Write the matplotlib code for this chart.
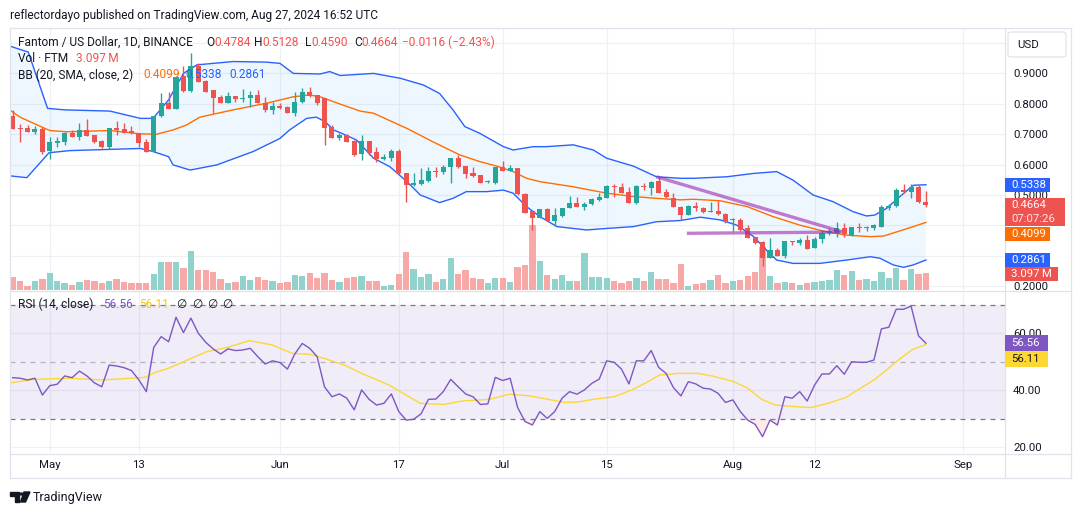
import numpy as np
import pandas as pd
import matplotlib
matplotlib.use("Agg")
import matplotlib.pyplot as plt
import matplotlib.transforms as mtransforms
from matplotlib.patches import Rectangle, FancyBboxPatch, Polygon, Circle
from matplotlib.lines import Line2D

W, H = 1080, 515
plt.rcParams["font.family"] = ["Roboto", "DejaVu Sans"]

TEAL = "#26a69a"
RED = "#ef5350"
DARK = "#131722"
BLUE = "#2962ff"
ORANGE = "#ff6d00"
PURPLE = "#7e57c2"
YELLOW = "#fdd835"
GRID = "#eef0f5"
BORDER = "#e0e3eb"

#----------- data -----------#
start = "2024-04-26"
opens = [0.760, 0.720, 0.719, 0.708, 0.717, 0.646, 0.670, 0.674, 0.703, 0.692,
         0.714, 0.696, 0.679, 0.657, 0.720, 0.717, 0.710, 0.705, 0.674, 0.643,
         0.760, 0.804, 0.784, 0.891, 0.842, 0.924, 0.875, 0.845, 0.821, 0.804,
         0.826, 0.817, 0.820, 0.829, 0.804, 0.780, 0.793, 0.788, 0.771, 0.807,
         0.839, 0.828, 0.818, 0.725, 0.689, 0.697, 0.679, 0.635, 0.678, 0.643,
         0.617, 0.623, 0.645, 0.571, 0.533, 0.536, 0.546, 0.579, 0.574, 0.591,
         0.623, 0.595, 0.571, 0.566, 0.542, 0.539, 0.593, 0.580, 0.590, 0.502,
         0.447, 0.425, 0.453, 0.416, 0.431, 0.458, 0.473, 0.462, 0.469, 0.483,
         0.491, 0.529, 0.525, 0.511, 0.475, 0.529, 0.522, 0.546, 0.509, 0.489,
         0.462, 0.434, 0.464, 0.458, 0.445, 0.447, 0.437, 0.418, 0.418, 0.390,
         0.361, 0.347, 0.294, 0.319, 0.300, 0.349, 0.341, 0.352, 0.327, 0.354,
         0.376, 0.374, 0.390, 0.368, 0.394, 0.393, 0.393, 0.396, 0.456, 0.465,
         0.516, 0.511, 0.525, 0.4784]
highs = [0.780, 0.732, 0.730, 0.727, 0.725, 0.692, 0.692, 0.708, 0.714, 0.736,
         0.750, 0.697, 0.681, 0.722, 0.745, 0.736, 0.727, 0.705, 0.683, 0.761,
         0.834, 0.839, 0.890, 0.924, 0.966, 0.933, 0.878, 0.845, 0.829, 0.838,
         0.826, 0.850, 0.842, 0.845, 0.823, 0.807, 0.801, 0.793, 0.840, 0.851,
         0.854, 0.830, 0.818, 0.730, 0.703, 0.700, 0.681, 0.697, 0.678, 0.659,
         0.635, 0.651, 0.651, 0.571, 0.571, 0.588, 0.593, 0.593, 0.599, 0.623,
         0.632, 0.595, 0.591, 0.566, 0.549, 0.593, 0.612, 0.599, 0.590, 0.506,
         0.447, 0.453, 0.456, 0.456, 0.458, 0.498, 0.492, 0.478, 0.491, 0.508,
         0.533, 0.536, 0.538, 0.527, 0.533, 0.538, 0.547, 0.560, 0.520, 0.505,
         0.464, 0.467, 0.478, 0.462, 0.478, 0.480, 0.440, 0.423, 0.423, 0.401,
         0.363, 0.350, 0.357, 0.325, 0.349, 0.350, 0.357, 0.368, 0.361, 0.385,
         0.390, 0.411, 0.409, 0.396, 0.409, 0.398, 0.403, 0.467, 0.472, 0.524,
         0.536, 0.536, 0.533, 0.5128]
lows = [0.716, 0.675, 0.706, 0.700, 0.635, 0.617, 0.659, 0.665, 0.690, 0.681,
        0.693, 0.672, 0.656, 0.651, 0.697, 0.703, 0.701, 0.659, 0.641, 0.641,
        0.755, 0.782, 0.782, 0.840, 0.840, 0.871, 0.838, 0.769, 0.802, 0.802,
        0.805, 0.807, 0.791, 0.802, 0.774, 0.765, 0.784, 0.769, 0.761, 0.804,
        0.823, 0.796, 0.665, 0.686, 0.681, 0.673, 0.628, 0.615, 0.632, 0.607,
        0.615, 0.613, 0.569, 0.478, 0.528, 0.534, 0.544, 0.558, 0.569, 0.541,
        0.589, 0.555, 0.560, 0.538, 0.538, 0.536, 0.578, 0.580, 0.500, 0.440,
        0.385, 0.423, 0.414, 0.398, 0.427, 0.456, 0.460, 0.451, 0.467, 0.481,
        0.489, 0.494, 0.506, 0.473, 0.470, 0.516, 0.500, 0.506, 0.489, 0.460,
        0.418, 0.433, 0.448, 0.442, 0.445, 0.434, 0.409, 0.382, 0.383, 0.357,
        0.339, 0.266, 0.292, 0.299, 0.294, 0.335, 0.335, 0.322, 0.325, 0.341,
        0.367, 0.363, 0.361, 0.366, 0.378, 0.380, 0.385, 0.396, 0.451, 0.462,
        0.505, 0.489, 0.475, 0.4590]
closes = [0.718, 0.716, 0.708, 0.716, 0.643, 0.673, 0.678, 0.705, 0.692, 0.714,
          0.695, 0.674, 0.659, 0.722, 0.715, 0.705, 0.703, 0.672, 0.642, 0.760,
          0.804, 0.784, 0.889, 0.842, 0.924, 0.873, 0.839, 0.820, 0.804, 0.826,
          0.817, 0.820, 0.829, 0.804, 0.780, 0.793, 0.787, 0.771, 0.807, 0.839,
          0.826, 0.804, 0.722, 0.689, 0.697, 0.675, 0.632, 0.678, 0.637, 0.617,
          0.626, 0.645, 0.571, 0.533, 0.539, 0.549, 0.579, 0.574, 0.591, 0.621,
          0.591, 0.569, 0.562, 0.541, 0.544, 0.593, 0.580, 0.590, 0.502, 0.442,
          0.425, 0.453, 0.416, 0.434, 0.458, 0.473, 0.462, 0.470, 0.486, 0.492,
          0.529, 0.525, 0.508, 0.475, 0.529, 0.525, 0.544, 0.508, 0.492, 0.462,
          0.434, 0.465, 0.458, 0.445, 0.447, 0.436, 0.411, 0.420, 0.385, 0.360,
          0.341, 0.294, 0.319, 0.300, 0.349, 0.345, 0.352, 0.324, 0.355, 0.376,
          0.380, 0.390, 0.372, 0.394, 0.390, 0.396, 0.400, 0.462, 0.465, 0.516,
          0.511, 0.527, 0.478, 0.4664]
# volume in millions
volume = [2.31, 1.69, 0.67, 1.69, 2.00, 3.10, 1.59, 1.22, 0.91, 1.51,
          1.77, 1.69, 1.28, 1.64, 2.00, 1.51, 1.28, 1.28, 1.28, 2.92,
          5.05, 5.05, 5.05, 4.01, 7.05, 3.64, 3.64, 3.33, 2.00, 1.28,
          1.51, 2.50, 1.88, 2.31, 1.82, 1.69, 1.22, 1.40, 2.73, 2.61,
          3.04, 2.24, 3.10, 1.82, 1.40, 2.24, 2.37, 2.50, 1.59, 1.59,
          0.67, 0.91, 2.92, 6.87, 3.83, 2.31, 2.86, 1.40, 1.95, 5.78,
          2.92, 3.59, 2.13, 2.00, 1.28, 2.13, 2.13, 1.40, 4.14, 4.56,
          11.85, 5.23, 2.73, 2.00, 2.73, 1.69, 1.69, 6.69, 2.42, 2.42,
          2.13, 1.69, 1.28, 1.69, 2.24, 1.69, 3.23, 2.00, 2.00, 1.28,
          4.74, 0.67, 1.09, 1.28, 1.82, 2.73, 1.28, 1.64, 1.82, 2.55,
          3.23, 7.78, 2.55, 1.28, 1.40, 1.28, 0.91, 1.28, 1.40, 1.64,
          1.82, 3.64, 2.73, 3.46, 1.82, 2.00, 1.64, 3.28, 2.19, 4.06,
          1.82, 3.83, 2.86, 3.097]
rsi = [44.5, 44.3, 43.7, 44.3, 38.4, 41.7, 42.2, 45.1, 44.5, 46.8,
       45.1, 42.7, 41.3, 48.9, 48.6, 48.0, 47.0, 43.7, 39.6, 55.1,
       58.9, 57.1, 65.7, 60.3, 65.4, 60.1, 56.9, 54.6, 52.8, 54.6,
       54.0, 54.2, 54.8, 51.9, 49.3, 50.4, 49.8, 47.5, 52.8, 56.5,
       54.8, 51.9, 41.3, 37.8, 38.8, 37.3, 33.2, 40.2, 36.9, 34.9,
       35.5, 38.8, 32.6, 29.6, 29.9, 31.8, 36.9, 37.0, 39.6, 43.9,
       41.3, 38.8, 37.8, 35.1, 35.3, 44.6, 43.5, 44.3, 34.1, 29.1,
       27.9, 32.6, 30.2, 32.6, 37.3, 39.6, 38.7, 40.2, 42.5, 44.0,
       50.4, 49.9, 47.5, 42.3, 50.4, 50.4, 54.0, 48.1, 46.0, 41.0,
       38.1, 43.1, 42.3, 40.8, 40.5, 39.0, 35.8, 36.7, 32.6, 29.6,
       28.1, 23.8, 29.6, 27.9, 37.8, 37.3, 39.6, 36.3, 41.9, 45.8,
       45.8, 48.7, 45.7, 50.1, 49.9, 49.9, 50.7, 61.6, 62.2, 68.5,
       68.5, 69.6, 59.2, 56.56]

# Bollinger bands and RSI-MA as read vertices (day 0 = May 1)
bb_up_day = [-5.4, -2.9, -0.3, 2, 8.1, 12.2, 13.9, 16.0, 18.0, 19.8, 24.7, 29.2, 31.0, 32.8, 36.4, 37.7,
             39.1, 43.6, 47.2, 50.3, 52.5, 54.3, 55.9, 57.9, 61.1, 62.4, 65.1, 66.9, 70.5, 73.2, 75.0,
             78.6, 81.7, 84.9, 86.7, 91.2, 94.8, 97.9, 100.1, 102.8, 105.5, 108.2, 110.0, 111.1, 112.7,
             114.5, 116.3, 118.0]
bb_up = [0.990, 0.970, 0.785, 0.780, 0.776, 0.752, 0.752, 0.813, 0.900, 0.928, 0.939, 0.937, 0.933, 0.900,
         0.898, 0.906, 0.893, 0.900, 0.884, 0.862, 0.834, 0.780, 0.725, 0.703, 0.659, 0.648, 0.659, 0.659,
         0.665, 0.648, 0.621, 0.595, 0.560, 0.555, 0.555, 0.560, 0.571, 0.577, 0.549, 0.500, 0.478, 0.445,
         0.431, 0.434, 0.456, 0.495, 0.532, 0.5338]
bb_mid_day = [-5.4, -4.0, -2.2, 0.0, 2.3, 8.1, 12.2, 14.4, 16.6, 18.4, 20.2, 24.7, 29.2, 32.8, 35.0,
              36.4, 38.2, 39.1, 41.8, 43.6, 48.1, 51.6, 55.2, 57.9, 60.2, 62.4, 64.2, 66.0, 70.5, 75.0,
              78.6, 81.7, 84.9, 86.7, 90.3, 93.9, 97.4, 101.0, 104.6, 107.3, 110.5, 112.3, 114.5, 116.3, 118.0]
bb_mid = [0.780, 0.756, 0.736, 0.712, 0.708, 0.712, 0.701, 0.700, 0.714, 0.730, 0.756, 0.780, 0.802, 0.823,
          0.829, 0.823, 0.807, 0.799, 0.776, 0.769, 0.719, 0.675, 0.632, 0.610, 0.595, 0.577, 0.555, 0.544,
          0.527, 0.506, 0.495, 0.489, 0.484, 0.486, 0.481, 0.462, 0.429, 0.401, 0.379, 0.368, 0.363, 0.365,
          0.382, 0.396, 0.4099]
bb_low_day = [-5.4, -3.1, -0.1, 2.7, 8.1, 12.2, 13.9, 16.0, 16.6, 18.9, 22.5, 27.4, 31.0, 32.3, 34.6,
              35.9, 37.1, 38.2, 39.1, 41.3, 43.6, 45.8, 48.1, 49.9, 52.5, 54.3, 56.1, 58.8, 61.1, 62.4,
              64.2, 66.0, 68.3, 72.3, 75.0, 78.6, 81.7, 84.9, 87.6, 90.3, 92.5, 94.8, 96.5, 97.9, 100.1,
              103.7, 107.3, 110.5, 111.8, 113.6, 115.0, 116.3, 118.0]
bb_low = [0.563, 0.557, 0.639, 0.646, 0.650, 0.653, 0.643, 0.626, 0.599, 0.582, 0.599, 0.643, 0.686, 0.714,
          0.752, 0.756, 0.741, 0.714, 0.705, 0.681, 0.621, 0.593, 0.544, 0.500, 0.475, 0.489, 0.511, 0.511,
          0.516, 0.506, 0.462, 0.429, 0.396, 0.385, 0.390, 0.396, 0.412, 0.416, 0.427, 0.418, 0.401, 0.363,
          0.319, 0.286, 0.275, 0.275, 0.286, 0.297, 0.292, 0.270, 0.262, 0.270, 0.2861]
rsi_ma_day = [-5.3, -2.1, 2.6, 7.2, 12.8, 14.2, 16.0, 18.3, 21.1, 23.9, 26.9, 29.9, 32.7, 35.0, 36.9,
              39.7, 42.0, 45.7, 49.9, 53.1, 55.5, 59.2, 61.9, 64.7, 67.5, 69.4, 71.3, 73.2, 76.0, 78.4,
              80.3, 82.1, 84.5, 87.3, 89.2, 92.1, 94.0, 95.8, 97.7, 100.6, 102.5, 104.8, 107.2, 109.5,
              111.0, 112.4, 114.3, 116.2, 118.0]
rsi_ma = [42.7, 43.9, 44.3, 43.7, 44.6, 46.3, 47.8, 50.4, 53.6, 55.1, 57.5, 56.0, 53.0, 52.7, 51.3, 48.9,
          46.0, 41.9, 35.5, 35.1, 36.3, 36.9, 38.7, 38.1, 36.7, 35.8, 36.0, 36.9, 37.8, 40.2, 42.7, 45.4,
          46.0, 46.0, 45.1, 43.1, 40.8, 37.0, 34.9, 34.3, 34.0, 35.5, 37.5, 41.3, 43.7, 46.6, 50.7, 54.4, 56.11]

# hand-drawn trend lines (day, price)
trend_diag = [(81.7, 0.560), (106.7, 0.379)]
trend_flat = [(85.8, 0.374), (106.5, 0.378)]

tick_dates = ["2024-05-01", "2024-05-13", "2024-06-01", "2024-06-17", "2024-07-01",
              "2024-07-15", "2024-08-01", "2024-08-12", "2024-09-01"]
tick_labels = ["May", "13", "Jun", "17", "Jul", "15", "Aug", "12", "Sep"]
price_ticks = [0.2, 0.3, 0.4, 0.5, 0.6, 0.7, 0.8, 0.9, 1.0]
hidden_price_labels = [0.3, 0.4, 1.0]   # covered by the scale tags / USD box
rsi_ticks = [20, 40, 60]

#----------- layout helpers -----------#
origin = pd.Timestamp("2024-05-01")
dates = pd.date_range(start, periods=len(closes), freq="D")
day = np.asarray((dates - origin).days, dtype=float)
tick_days = [(pd.Timestamp(t) - origin).days for t in tick_dates]

o, h, l, c = map(np.array, (opens, highs, lows, closes))
up = c >= o
col = np.where(up, TEAL, RED)
vcol = np.where(up, "#92d2cc", "#f7a9a7")

def fx(x):
    return x / W

def fy(y):
    return 1 - y / H

def rect(x0, y0, x1, y1):
    return [x0 / W, 1 - y1 / H, (x1 - x0) / W, (y1 - y0) / H]

XLIM = (-5.36, 128.65)
VOL_TOP = 47.7

fig = plt.figure(figsize=(W / 100, H / 100), dpi=100)
fig.patch.set_facecolor("white")

ax = fig.add_axes(rect(10, 28, 1005, 290))
ax_r = fig.add_axes(rect(10, 291, 1005, 453))

for a in (ax, ax_r):
    a.set_xlim(*XLIM)
    for s in a.spines.values():
        s.set_visible(False)
    a.set_xticks(tick_days)
    a.grid(True, color=GRID, lw=0.9)
    a.set_axisbelow(True)
    a.yaxis.tick_right()
    a.tick_params(axis="y", length=0, pad=5.8, labelsize=8.2, labelcolor=DARK)
    a.tick_params(axis="x", length=0)

#----------- price panel -----------#
ax.set_ylim(0.1875, 1.0493)
ax.set_yticks(price_ticks)
ax.set_yticklabels(["" if p in hidden_price_labels else f"{p:.4f}" for p in price_ticks])
ax.set_xticklabels([])

vol_tr = mtransforms.blended_transform_factory(ax.transData, ax.transAxes)
ax.bar(day, np.array(volume) / VOL_TOP, width=0.85, bottom=0, color=vcol,
       transform=vol_tr, zorder=1, linewidth=0)

ax.fill(np.concatenate([bb_up_day, bb_low_day[::-1]]),
        np.concatenate([bb_up, bb_low[::-1]]),
        color="#2196f3", alpha=0.07, lw=0, zorder=2)
ax.plot(bb_up_day, bb_up, color=BLUE, lw=1.0, zorder=3)
ax.plot(bb_low_day, bb_low, color=BLUE, lw=1.0, zorder=3)
ax.plot(bb_mid_day, bb_mid, color=ORANGE, lw=1.0, zorder=3)

ax.vlines(day, l, h, colors=col, lw=1.0, zorder=4)
ax.bar(day, np.maximum(np.abs(c - o), 0.0025), bottom=np.minimum(o, c), width=0.68,
       color=col, linewidth=0, zorder=5)

for seg in (trend_diag, trend_flat):
    xs, ys = zip(*seg)
    ax.plot(xs, ys, color="#9c27b0", alpha=0.6, lw=2.4, solid_capstyle="butt", zorder=6)

ax.set_xlim(*XLIM)

#----------- RSI panel -----------#
r = np.array(rsi)
ax_r.set_ylim(18.07, 74.9)
ax_r.set_yticks(rsi_ticks)
ax_r.set_yticklabels([f"{v:.2f}" for v in rsi_ticks])
ax_r.set_xticklabels(tick_labels)
ax_r.tick_params(axis="x", pad=5, labelsize=8.2, labelcolor=DARK)
ax_r.axhspan(30, 70, color=PURPLE, alpha=0.11, lw=0, zorder=1)
ax_r.axhline(70, color="#787b86", lw=0.9, ls=(0, (4, 4)), zorder=2)
ax_r.axhline(30, color="#787b86", lw=0.9, ls=(0, (4, 4)), zorder=2)
ax_r.axhline(50, color="#787b86", lw=0.9, ls=(0, (4, 4)), alpha=0.5, zorder=2)
ax_r.fill_between(day, r, 30, where=r < 30, interpolate=True, color=RED, alpha=0.12, lw=0, zorder=2)
ax_r.plot(rsi_ma_day, rsi_ma, color=YELLOW, lw=1.0, zorder=3)
ax_r.plot(day, r, color=PURPLE, lw=1.0, zorder=4)
ax_r.set_xlim(*XLIM)

#----------- frame -----------#
def fline(xs, ys):
    fig.add_artist(Line2D([fx(x) for x in xs], [fy(y) for y in ys], transform=fig.transFigure,
                          color=BORDER, lw=0.9, zorder=4))

for yy in (27.5, 290.5, 453.5, 478):
    fline((9.5, 1071), (yy, yy))
for xx in (9.5, 1005, 1071):
    fline((xx, xx), (27.5, 478))

#----------- text rows -----------#
renderer = fig.canvas.get_renderer()

def legend_row(y, groups, size=8.6):
    for x, parts in groups:
        for s, cl in parts:
            t = fig.text(fx(x), fy(y), s, color=cl, fontsize=size, ha="left", va="center",
                         family=["Roboto", "DejaVu Sans"])
            x += t.get_window_extent(renderer=renderer).width

fig.text(fx(10), fy(15), "reflectordayo published on TradingView.com, Aug 27, 2024 16:52 UTC",
         color=DARK, fontsize=8.6, ha="left", va="center")

legend_row(42, [(18, [("Fantom / US Dollar, 1D, BINANCE", DARK)]),
                (206, [("O", DARK), (f"{opens[-1]:.4f}", RED)]),
                (254, [("H", DARK), (f"{highs[-1]:.4f}", RED)]),
                (305, [("L", DARK), (f"{lows[-1]:.4f}", RED)]),
                (354, [("C", DARK), (f"{closes[-1]:.4f}", RED)]),
                (402, [("\u22120.0116 (\u22122.43%)", RED)])])
legend_row(59, [(18, [("Vol \u00b7 FTM", DARK)]), (76, [(f"{volume[-1]:.3f}\u2009M", RED)])])
legend_row(75, [(18, [("BB (20, SMA, close, 2)", DARK)]),
                (143, [(f"{bb_mid[-1]:.4f}", ORANGE)]),
                (185, [(f"{bb_up[-1]:.4f}", BLUE)]),
                (229, [(f"{bb_low[-1]:.4f}", BLUE)])])
legend_row(304, [(18, [("RSI (14, close)", DARK)]),
                 (103, [(f"{rsi[-1]:.2f}", PURPLE)]),
                 (139, [(f"{rsi_ma[-1]:.2f}", "#f2c80f")]),
                 (176, [("\u2205", DARK)]), (192, [("\u2205", DARK)]),
                 (207, [("\u2205", DARK)]), (222, [("\u2205", DARK)])])

#----------- right-scale tags -----------#
def data_y(a, v):
    return H - a.transData.transform((0, v))[1]

def tag(y, text, bg, fg="white", x1=1050, hgt=14, sub=None):
    top = y - hgt / 2
    tot = hgt + (14 if sub else 0)
    fig.add_artist(Rectangle((fx(1005), fy(top + tot)), (x1 - 1005) / W, tot / H,
                             transform=fig.transFigure, facecolor=bg, edgecolor="none", zorder=5))
    fig.text(fx(1011), fy(y), text, color=fg, fontsize=8.2, ha="left", va="center", zorder=6)
    if sub:
        fig.text(fx(1011), fy(y + 14), sub, color=fg, fontsize=8.2, ha="left", va="center",
                 zorder=6, alpha=0.85)
    return top + tot

tag(data_y(ax, bb_up[-1]), f"{bb_up[-1]:.4f}", BLUE)
bot = tag(data_y(ax, closes[-1]), f"{closes[-1]:.4f}", RED, x1=1065, sub="07:07:26")
tag(max(data_y(ax, bb_mid[-1]), bot + 7.5), f"{bb_mid[-1]:.4f}", ORANGE)
bot = tag(data_y(ax, bb_low[-1]), f"{bb_low[-1]:.4f}", BLUE)
vy = 290 - volume[-1] / VOL_TOP * 262
tag(max(vy, bot + 6.5), f"{volume[-1]:.3f}\u2009M", RED, x1=1058)

bot = tag(data_y(ax_r, rsi[-1]), f"{rsi[-1]:.2f}", PURPLE, x1=1048, hgt=16)
tag(max(data_y(ax_r, rsi_ma[-1]), bot + 8), f"{rsi_ma[-1]:.2f}", YELLOW, fg=DARK, x1=1048, hgt=16)

fig.add_artist(FancyBboxPatch((fx(1008), fy(57)), 58 / W, 25 / H,
                              boxstyle="round,pad=0,rounding_size=0.004",
                              transform=fig.transFigure, facecolor="white",
                              edgecolor=BORDER, lw=0.9, zorder=5))
fig.text(fx(1017), fy(44.5), "USD", color=DARK, fontsize=8.2, ha="left", va="center", zorder=6)

#----------- TradingView mark -----------#
fig.add_artist(Polygon([(fx(10), fy(492)), (fx(18.5), fy(492)), (fx(18.5), fy(502)),
                        (fx(14.5), fy(502)), (fx(14.5), fy(496)), (fx(10), fy(496))],
                       closed=True, transform=fig.transFigure, color=DARK))
fig.add_artist(Circle((fx(21.5), fy(494)), 1.9 / W, transform=fig.transFigure, color=DARK))
fig.add_artist(Polygon([(fx(24), fy(492)), (fx(30), fy(492)), (fx(25.5), fy(502)), (fx(20.5), fy(502))],
                       closed=True, transform=fig.transFigure, color=DARK))
fig.text(fx(33), fy(497), "TradingView", color=DARK, fontsize=9, ha="left", va="center")

fig.savefig("out.png", dpi=100)
